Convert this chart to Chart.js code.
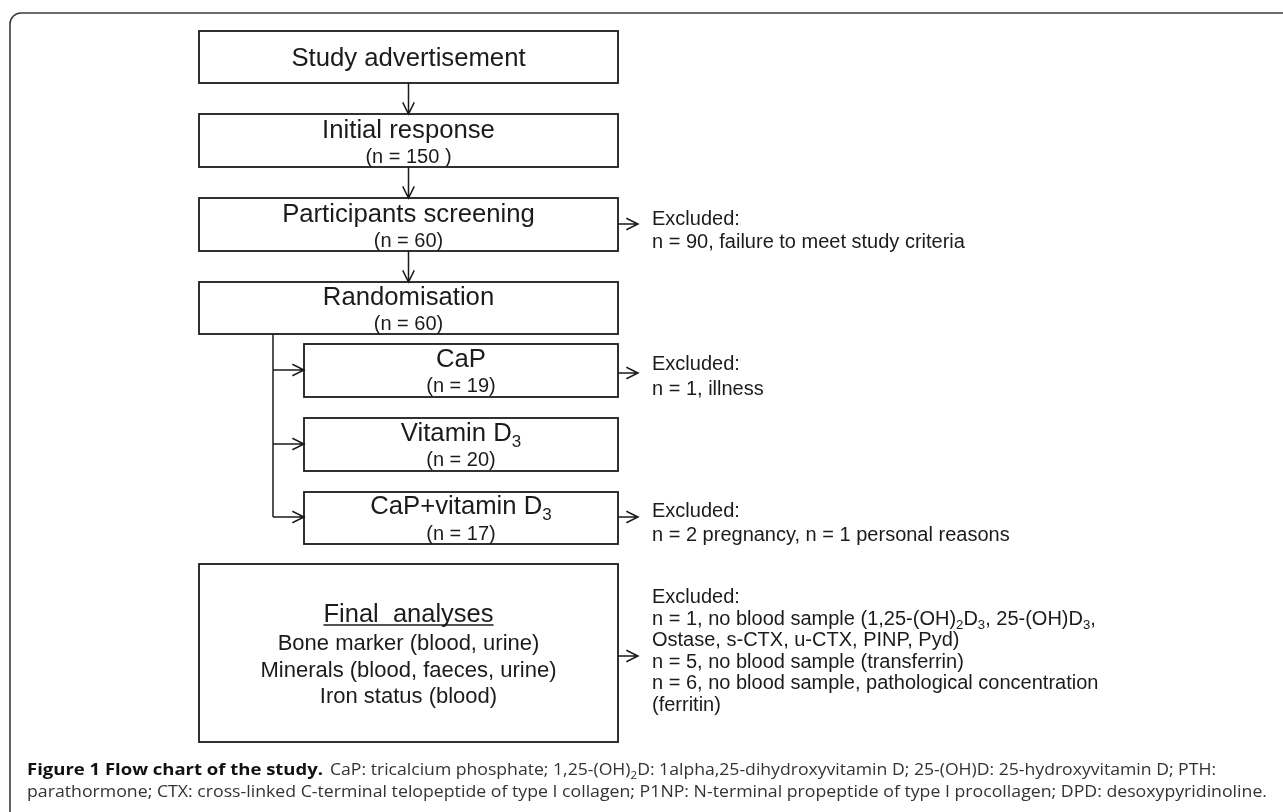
<!DOCTYPE html>
<html>
<head>
<meta charset="utf-8">
<script src="https://cdn.jsdelivr.net/npm/chart.js@4.4.1/dist/chart.umd.min.js"></script>
<style>
  html, body { margin: 0; padding: 0; background: #fff; }
  canvas { display: block; }
</style>
</head>
<body>
<canvas id="flow" width="1283" height="812"></canvas>
<script>
'use strict';

// flow chart content ("_3" marks a subscript digit)
var stepNames = ['Study advertisement', 'Initial response', 'Participants screening', 'Randomisation'];
var stepCounts = [null, '(n = 150 )', '(n = 60)', '(n = 60)'];
var armNames = ['CaP', 'Vitamin D_3', 'CaP+vitamin D_3'];
var armCounts = ['(n = 19)', '(n = 20)', '(n = 17)'];
var screeningExcluded = ['Excluded:', 'n = 90, failure to meet study criteria'];
var capExcluded = ['Excluded:', 'n = 1, illness'];
var comboExcluded = ['Excluded:', 'n = 2 pregnancy, n = 1 personal reasons'];
var finalTitle = 'Final  analyses';
var finalItems = ['Bone marker (blood, urine)', 'Minerals (blood, faeces, urine)', 'Iron status (blood)'];
var finalExcluded = [
    'Excluded:',
    'n = 1, no blood sample (1,25-(OH)_2D_3, 25-(OH)D_3,',
    'Ostase, s-CTX, u-CTX, PINP, Pyd)',
    'n = 5, no blood sample (transferrin)',
    'n = 6, no blood sample, pathological concentration',
    '(ferritin)'
];
var captionBold = 'Figure 1 Flow chart of the study.';
var captionLine1 = 'CaP: tricalcium phosphate; 1,25-(OH)_2D: 1alpha,25-dihydroxyvitamin D; 25-(OH)D: 25-hydroxyvitamin D; PTH:';
var captionLine2 = 'parathormone; CTX: cross-linked C-terminal telopeptide of type I collagen; P1NP: N-terminal propeptide of type I procollagen; DPD: desoxypyridinoline.';

// geometry, in the chart's own (hidden) axis units
var layout = {
    mainX: [199, 618],
    stepY: [[31, 83], [114, 167], [198, 251], [282, 334]],
    stepTitleY: [66, 138, 222, 305],
    stepCountY: [null, 163, 247, 330],
    armX: [304, 618],
    armY: [[344, 397], [418, 471], [492, 544]],
    armTitleY: [367, 441, 514],
    armCountY: [392, 466, 540],
    branchX: 273,
    branchY: [370, 444, 517],
    finalY: [564, 742],
    finalTitleY: 622,
    finalItemY: [650, 677, 703],
    sideX: 652,
    arrowEnd: 638
};

var SANS = '"Liberation Sans", Arial, sans-serif';
var CAPTION = '"Open Sans", sans-serif';
var INK = '#1b1b1b';

function parts(s) {
    var out = [];
    var re = /_(\d)/g, last = 0, m;
    while ((m = re.exec(s)) !== null) {
        if (m.index > last) out.push({ t: s.slice(last, m.index), sub: false });
        out.push({ t: m[1], sub: true });
        last = re.lastIndex;
    }
    if (last < s.length) out.push({ t: s.slice(last), sub: false });
    return out;
}

function font(size, weight, family) {
    return (weight || 'normal') + ' ' + size + 'px ' + (family || SANS);
}

function richWidth(ctx, s, size, weight, family) {
    var w = 0;
    parts(s).forEach(function (p) {
        ctx.font = font(p.sub ? size * 0.66 : size, weight, family);
        w += ctx.measureText(p.t).width;
    });
    return w;
}

// draws text with subscripts; align 'left' or 'center'; sx = horizontal squeeze
function drawRich(ctx, s, x, y, size, opt) {
    opt = opt || {};
    var sx = opt.sx || 1;
    var w = richWidth(ctx, s, size, opt.weight, opt.family) * sx;
    var cx = opt.align === 'center' ? x - w / 2 : x;
    ctx.save();
    ctx.fillStyle = opt.color || INK;
    ctx.textBaseline = 'alphabetic';
    ctx.textAlign = 'left';
    ctx.translate(cx, y);
    ctx.scale(sx, 1);
    var pos = 0;
    parts(s).forEach(function (p) {
        var sz = p.sub ? size * 0.66 : size;
        ctx.font = font(sz, opt.weight, opt.family);
        ctx.fillText(p.t, pos, p.sub ? size * 0.22 : 0);
        pos += ctx.measureText(p.t).width;
    });
    ctx.restore();
    return { left: cx, width: w };
}

function arrow(ctx, x1, y1, x2, y2) {
    var a = Math.atan2(y2 - y1, x2 - x1), len = 13, spread = 0.46;
    ctx.beginPath();
    ctx.moveTo(x1, y1);
    ctx.lineTo(x2, y2);
    ctx.moveTo(x2 - len * Math.cos(a - spread), y2 - len * Math.sin(a - spread));
    ctx.lineTo(x2, y2);
    ctx.lineTo(x2 - len * Math.cos(a + spread), y2 - len * Math.sin(a + spread));
    ctx.stroke();
}

var flowPlugin = {
    id: 'flow',
    afterDraw: function (chart) {
        var ctx = chart.ctx;
        var X = chart.scales.x, Y = chart.scales.y;
        var px = function (v) { return X.getPixelForValue(v); };
        var py = function (v) { return Y.getPixelForValue(v); };
        var L = layout;

        ctx.save();
        ctx.lineCap = 'butt';
        ctx.lineJoin = 'miter';

        // figure frame
        ctx.strokeStyle = '#3c3c3c';
        ctx.lineWidth = 1.6;
        ctx.beginPath();
        ctx.roundRect(px(10), py(13), 1320, 830, 11);
        ctx.stroke();

        ctx.strokeStyle = INK;
        ctx.lineWidth = 1.8;
        var cx = (px(L.mainX[0]) + px(L.mainX[1])) / 2;

        // main column
        stepNames.forEach(function (name, i) {
            var y0 = py(L.stepY[i][0]), y1 = py(L.stepY[i][1]);
            ctx.strokeRect(px(L.mainX[0]), y0, px(L.mainX[1]) - px(L.mainX[0]), y1 - y0);
            drawRich(ctx, name, cx, py(L.stepTitleY[i]), 25.7, { align: 'center' });
            if (stepCounts[i]) drawRich(ctx, stepCounts[i], cx, py(L.stepCountY[i]), 20, { align: 'center' });
            if (i < stepNames.length - 1) {
                ctx.lineWidth = 1.5;
                arrow(ctx, cx, y1, cx, py(L.stepY[i + 1][0]));
                ctx.lineWidth = 1.8;
            }
        });

        // branches to the arms
        var ax = (px(L.armX[0]) + px(L.armX[1])) / 2;
        ctx.lineWidth = 1.5;
        ctx.beginPath();
        ctx.moveTo(px(L.branchX), py(L.stepY[3][1]));
        ctx.lineTo(px(L.branchX), py(L.branchY[2]));
        ctx.stroke();
        armNames.forEach(function (name, i) {
            var y0 = py(L.armY[i][0]), y1 = py(L.armY[i][1]);
            ctx.lineWidth = 1.5;
            arrow(ctx, px(L.branchX), py(L.branchY[i]), px(L.armX[0]), py(L.branchY[i]));
            ctx.lineWidth = 1.8;
            ctx.strokeRect(px(L.armX[0]), y0, px(L.armX[1]) - px(L.armX[0]), y1 - y0);
            drawRich(ctx, name, ax, py(L.armTitleY[i]), 25.7, { align: 'center' });
            drawRich(ctx, armCounts[i], ax, py(L.armCountY[i]), 20, { align: 'center' });
        });

        // final analyses box
        var f0 = py(L.finalY[0]), f1 = py(L.finalY[1]);
        ctx.strokeRect(px(L.mainX[0]), f0, px(L.mainX[1]) - px(L.mainX[0]), f1 - f0);
        var t = drawRich(ctx, finalTitle, cx, py(L.finalTitleY), 25.5, { align: 'center' });
        ctx.lineWidth = 1.3;
        ctx.beginPath();
        ctx.moveTo(t.left, py(L.finalTitleY) + 3);
        ctx.lineTo(t.left + t.width, py(L.finalTitleY) + 3);
        ctx.stroke();
        finalItems.forEach(function (s, i) {
            drawRich(ctx, s, cx, py(L.finalItemY[i]), 22, { align: 'center' });
        });

        // exclusions on the right
        var side = [
            { lines: screeningExcluded, arrowY: 224, y: [225, 248] },
            { lines: capExcluded, arrowY: 373, y: [370, 395] },
            { lines: comboExcluded, arrowY: 517, y: [517, 541] },
            { lines: finalExcluded, arrowY: 656, y: [603, 624.5, 646, 667.5, 689, 710.5] }
        ];
        ctx.lineWidth = 1.5;
        side.forEach(function (g) {
            arrow(ctx, px(L.mainX[1]), py(g.arrowY), px(L.arrowEnd), py(g.arrowY));
            g.lines.forEach(function (s, i) {
                drawRich(ctx, s, px(L.sideX), py(g.y[i]), 20, {});
            });
        });

        // caption
        var capSize = 16.5;
        var bw = richWidth(ctx, captionBold, capSize, 'bold', CAPTION);
        drawRich(ctx, captionBold, px(27), py(775), capSize, { weight: 'bold', family: CAPTION, sx: 296 / bw, color: '#111' });
        var w1 = richWidth(ctx, captionLine1, capSize, 'normal', CAPTION);
        drawRich(ctx, captionLine1, px(330), py(775), capSize, { family: CAPTION, sx: 886 / w1, color: '#333' });
        var w2 = richWidth(ctx, captionLine2, capSize, 'normal', CAPTION);
        drawRich(ctx, captionLine2, px(27), py(797), capSize, { family: CAPTION, sx: 1240 / w2, color: '#333' });

        ctx.restore();
    }
};

new Chart(document.getElementById('flow'), {
    type: 'scatter',
    data: { datasets: [{ data: [], pointRadius: 0 }] },
    options: {
        responsive: false,
        devicePixelRatio: 1,
        animation: false,
        layout: { padding: 0 },
        plugins: { legend: { display: false }, tooltip: { enabled: false } },
        scales: {
            x: { type: 'linear', min: 0, max: 1283, display: false },
            y: { type: 'linear', min: 0, max: 812, reverse: true, display: false }
        }
    },
    plugins: [flowPlugin]
});
</script>
</body>
</html>
